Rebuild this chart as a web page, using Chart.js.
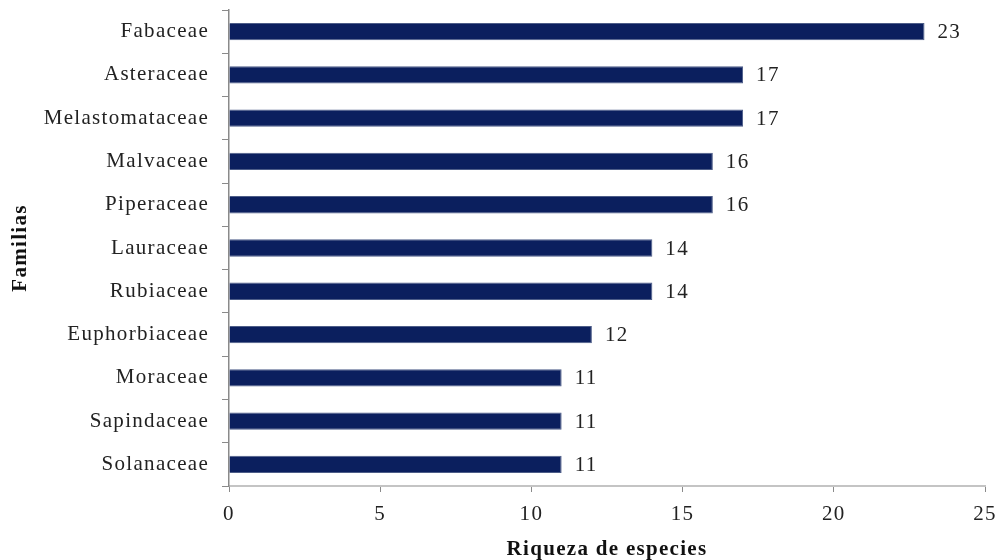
<!DOCTYPE html>
<html>
<head>
<meta charset="utf-8">
<script src="https://cdn.jsdelivr.net/npm/chart.js@4.4.1/dist/chart.umd.min.js"></script>
<style>
  html, body { margin: 0; padding: 0; background: #fff; }
  #wrap { width: 999px; height: 560px; }
</style>
</head>
<body>
<div id="wrap"><canvas id="familyChart" width="999" height="560"></canvas></div>
<script>
const families = ['Fabaceae', 'Asteraceae', 'Melastomataceae', 'Malvaceae', 'Piperaceae',
    'Lauraceae', 'Rubiaceae', 'Euphorbiaceae', 'Moraceae', 'Sapindaceae', 'Solanaceae'];
const speciesCount = [23, 17, 17, 16, 16, 14, 14, 12, 11, 11, 11];
const xTicks = [0, 5, 10, 15, 20, 25];

const serif = "'Liberation Serif', 'Times New Roman', serif";
const spacing = '1.3px';

// the text in this chart is set a little wide
const wideText = {
    id: 'wideText',
    beforeDraw(chart) { chart.ctx.letterSpacing = spacing; },
    afterDraw(chart) { chart.ctx.letterSpacing = '0px'; }
};

// writes the count just past the end of each bar
const barValues = {
    id: 'barValues',
    afterDatasetsDraw(chart) {
        const ctx = chart.ctx;
        const meta = chart.getDatasetMeta(0);
        ctx.save();
        ctx.letterSpacing = spacing;
        ctx.font = '21px ' + serif;
        ctx.fillStyle = '#222';
        ctx.textAlign = 'left';
        ctx.textBaseline = 'middle';
        meta.data.forEach((bar, i) => {
            ctx.fillText(String(speciesCount[i]), bar.x + 13, bar.y + 1);
        });
        ctx.restore();
    }
};

const ctx = document.getElementById('familyChart').getContext('2d');
new Chart(ctx, {
    type: 'bar',
    data: {
        labels: families,
        datasets: [{
            data: speciesCount,
            backgroundColor: '#0b1f5e',
            borderColor: '#4d5d88',
            borderWidth: 1,
            categoryPercentage: 1,
            barPercentage: 0.4
        }]
    },
    options: {
        indexAxis: 'y',
        responsive: false,
        animation: false,
        layout: { padding: { top: 10, right: 14, left: 0, bottom: 0 } },
        plugins: {
            legend: { display: false },
            tooltip: { enabled: false }
        },
        scales: {
            x: {
                min: 0,
                max: 25,
                afterBuildTicks: (scale) => { scale.ticks = xTicks.map(v => ({ value: v })); },
                afterFit: (scale) => {
                    scale.height = 74;
                    scale.paddingLeft = 0;
                    scale.paddingRight = 0;
                },
                border: { color: '#c4c4c4', width: 2 },
                grid: { drawOnChartArea: false, drawTicks: true, tickLength: 6, color: '#8a8a8a' },
                ticks: { color: '#222', font: { family: serif, size: 21 }, padding: 10 },
                title: {
                    display: true,
                    text: 'Riqueza de especies',
                    color: '#111',
                    font: { family: serif, size: 21, weight: 'bold', lineHeight: 1 },
                    padding: 0
                }
            },
            y: {
                afterFit: (scale) => {
                    scale.width = 229;
                    scale.paddingTop = 0;
                    scale.paddingBottom = 0;
                },
                border: { color: '#8a8a8a', width: 1.5 },
                grid: { drawOnChartArea: false, drawTicks: true, tickLength: 7, color: '#8a8a8a', offset: true },
                ticks: { color: '#222', font: { family: serif, size: 21 }, padding: 13 },
                title: {
                    display: true,
                    text: 'Familias',
                    color: '#111',
                    font: { family: serif, size: 21, weight: 'bold' },
                    padding: { top: 8, bottom: 0 }
                }
            }
        }
    },
    plugins: [wideText, barValues]
});
</script>
</body>
</html>
